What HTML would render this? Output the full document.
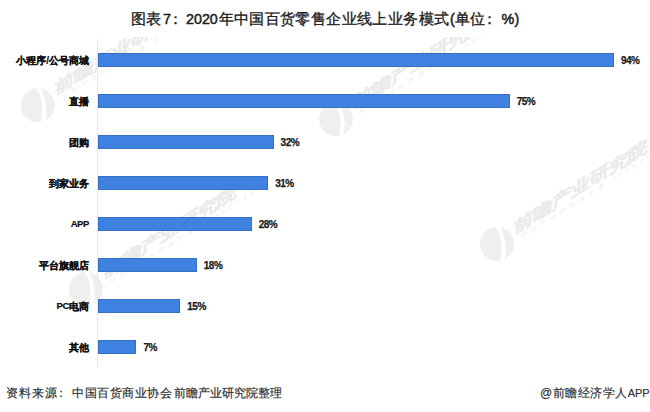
<!DOCTYPE html>
<html><head><meta charset="utf-8">
<style>
html,body{margin:0;padding:0;}
body{width:650px;height:412px;background:#fff;position:relative;overflow:hidden;font-family:"Liberation Sans",sans-serif;}
.tc,.tl{position:absolute;top:9px;font-size:15.2px;letter-spacing:0.4px;font-weight:normal;-webkit-text-stroke:0.35px #1e1e1e;color:#1e1e1e;line-height:20px;white-space:nowrap;}
.tl{font-size:14.3px;top:9px;letter-spacing:0;-webkit-text-stroke:0.5px #1e1e1e;}
.axis{position:absolute;left:97px;top:39px;width:1px;height:329px;background:#e8e8e8;}
.bar{position:absolute;left:98px;height:14.2px;background:#3e81e0;box-shadow:inset 0 0 0 1px rgba(45,90,160,0.45);}
.cat{position:absolute;right:561px;font-size:10px;font-weight:bold;-webkit-text-stroke:0.2px #111;color:#111;line-height:18px;white-space:nowrap;}
.lat{font-size:9.5px;letter-spacing:-0.4px;position:relative;top:-1px;}
.val{position:absolute;font-size:10px;letter-spacing:-0.5px;font-weight:bold;-webkit-text-stroke:0.25px #111;color:#1e1e1e;line-height:14px;white-space:nowrap;}
.f{position:absolute;top:384px;font-size:12px;color:#333;-webkit-text-stroke:0.2px #333;line-height:18px;white-space:nowrap;}
</style></head><body>
<svg class="wm" width="650" height="412" viewBox="0 0 650 412" style="position:absolute;left:0;top:0;font-family:Liberation Sans"><defs><clipPath id="cp"><rect x="0" y="37" width="650" height="340"/></clipPath></defs><g clip-path="url(#cp)"><g transform="translate(37.7,105.3)">
<circle cx="0" cy="0" r="17" fill="#efefef"/>
<path d="M-2,-17.5 C4,-10 6,2 3,17.5 L8,16 C10,4 8,-9 3,-17 Z" fill="#fff"/>
</g><g transform="translate(37.7,105.3) skewY(-32)">
<text transform="scale(1,0.85)" x="17" y="0.8" font-size="19.5" fill="#ebebeb" stroke="#ebebeb" stroke-width="0.4" font-weight="bold" letter-spacing="-0.4">前瞻产业研究院</text>
<text x="24" y="10" font-size="6" fill="#eeeeee" letter-spacing="3.2">中国产业咨询领导者 QIANZHAN</text>
</g><g transform="translate(336,119)">
<circle cx="0" cy="0" r="17" fill="#efefef"/>
<path d="M-2,-17.5 C4,-10 6,2 3,17.5 L8,16 C10,4 8,-9 3,-17 Z" fill="#fff"/>
</g><g transform="translate(336,119) skewY(-32)">
<text transform="scale(1,0.85)" x="17" y="0.8" font-size="19.5" fill="#ebebeb" stroke="#ebebeb" stroke-width="0.4" font-weight="bold" letter-spacing="-0.4">前瞻产业研究院</text>
<text x="24" y="10" font-size="6" fill="#eeeeee" letter-spacing="3.2">中国产业咨询领导者 QIANZHAN</text>
</g><g transform="translate(497,244)">
<circle cx="0" cy="0" r="17" fill="#efefef"/>
<path d="M-2,-17.5 C4,-10 6,2 3,17.5 L8,16 C10,4 8,-9 3,-17 Z" fill="#fff"/>
</g><g transform="translate(497,244) skewY(-32)">
<text transform="scale(1,0.85)" x="17" y="0.8" font-size="19.5" fill="#ebebeb" stroke="#ebebeb" stroke-width="0.4" font-weight="bold" letter-spacing="-0.4">前瞻产业研究院</text>
<text x="24" y="10" font-size="6" fill="#eeeeee" letter-spacing="3.2">中国产业咨询领导者 QIANZHAN</text>
</g><g transform="translate(86,289)">
<circle cx="0" cy="0" r="17" fill="#efefef"/>
<path d="M-2,-17.5 C4,-10 6,2 3,17.5 L8,16 C10,4 8,-9 3,-17 Z" fill="#fff"/>
</g><g transform="translate(86,289) skewY(-32)">
<text transform="scale(1,0.85)" x="17" y="0.8" font-size="19.5" fill="#ebebeb" stroke="#ebebeb" stroke-width="0.4" font-weight="bold" letter-spacing="-0.4">前瞻产业研究院</text>
<text x="24" y="10" font-size="6" fill="#eeeeee" letter-spacing="3.2">中国产业咨询领导者 QIANZHAN</text>
</g></g></svg>
<span class="tc" style="left:131px">图表</span><span class="tl" style="left:163px">7</span><span class="tc" style="left:168px">：</span><span class="tl" style="left:186px">2020</span><span class="tc" style="left:218.5px">年中国百货零售企业线上业务模式</span><span class="tl" style="left:450px">(</span><span class="tc" style="left:455px">单位</span><span class="tc" style="left:482px">：</span><span class="tl" style="left:501.5px">%</span><span class="tl" style="left:514.5px">)</span>
<div class="axis"></div>
<div class="cat" style="top:52.0px">小程序/公号商城</div><div class="bar" style="top:53.2px;width:516.0px"></div><div class="val" style="top:54.0px;left:621.0px">94%</div><div class="cat" style="top:93.0px">直播</div><div class="bar" style="top:94.2px;width:411.7px"></div><div class="val" style="top:95.0px;left:516.7px">75%</div><div class="cat" style="top:134.0px">团购</div><div class="bar" style="top:135.2px;width:175.6px"></div><div class="val" style="top:136.0px;left:280.6px">32%</div><div class="cat" style="top:175.0px">到家业务</div><div class="bar" style="top:176.2px;width:170.2px"></div><div class="val" style="top:177.0px;left:275.2px">31%</div><div class="cat" style="top:216.0px"><span class="lat">APP</span></div><div class="bar" style="top:217.2px;width:153.7px"></div><div class="val" style="top:218.0px;left:258.7px">28%</div><div class="cat" style="top:257.0px">平台旗舰店</div><div class="bar" style="top:258.2px;width:98.8px"></div><div class="val" style="top:259.0px;left:203.8px">18%</div><div class="cat" style="top:298.0px"><span class="lat">PC</span>电商</div><div class="bar" style="top:299.2px;width:82.3px"></div><div class="val" style="top:300.0px;left:187.3px">15%</div><div class="cat" style="top:339.0px">其他</div><div class="bar" style="top:340.2px;width:38.4px"></div><div class="val" style="top:341.0px;left:143.4px">7%</div>
<span class="f" style="left:6px;letter-spacing:0.9px">资料来源</span>
<span class="f" style="left:55px">：</span>
<span class="f" style="left:72px;letter-spacing:0.5px">中国百货商业协会</span>
<span class="f" style="left:174px">前瞻产业研究院整理</span>
<span class="f" style="left:540px;letter-spacing:0.5px">@前瞻经济学人<span style="font-size:11px;letter-spacing:0">APP</span></span>
</body></html>
